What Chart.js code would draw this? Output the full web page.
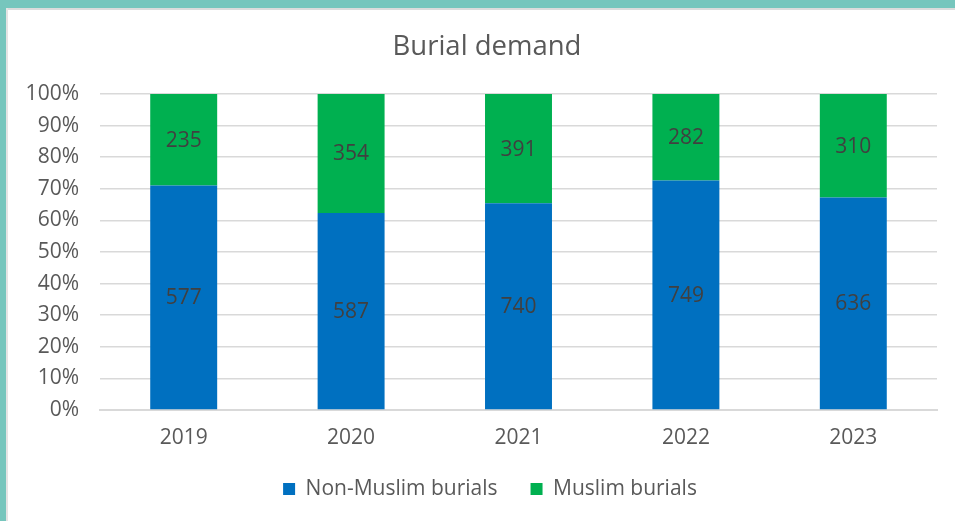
<!DOCTYPE html>
<html>
<head>
<meta charset="utf-8">
<script src="https://cdn.jsdelivr.net/npm/chart.js@4.4.0/dist/chart.umd.min.js"></script>
<style>
html,body{margin:0;padding:0;background:#fff;}
#wrap{position:relative;width:955px;height:521px;overflow:hidden;}
#c{position:absolute;left:0;top:0;}
.bt{position:absolute;left:0;top:0;width:955px;height:8px;background:#76C6BD;}
.bt2{position:absolute;left:6px;top:8px;width:949px;height:2px;background:#DCDCDC;}
.bl{position:absolute;left:0;top:0;width:6px;height:521px;background:#76C6BD;}
.bl2{position:absolute;left:6px;top:8px;width:2px;height:513px;background:#E4E4E4;}
</style>
</head>
<body>
<div id="wrap">
<canvas id="c" width="955" height="521"></canvas>
<div class="bt"></div><div class="bt2"></div><div class="bl"></div><div class="bl2"></div>
</div>
<script>
const categories = ['2019', '2020', '2021', '2022', '2023'];
const nonMuslim = [577, 587, 740, 749, 636];
const muslim = [235, 354, 391, 282, 310];
const seriesNames = ['Non-Muslim burials', 'Muslim burials'];

const totals = categories.map((_, i) => nonMuslim[i] + muslim[i]);
const pct = arr => arr.map((v, i) => v / totals[i] * 100);

const FONT = "'Open Sans', 'Noto Sans', sans-serif";

const labelPlugin = {
  id: 'valueLabels',
  afterDatasetsDraw(chart) {
    const ctx = chart.ctx;
    ctx.save();
    ctx.font = "21px " + FONT;
    ctx.fillStyle = '#404040';
    ctx.textAlign = 'center';
    ctx.textBaseline = 'middle';
    chart.data.datasets.forEach((ds, di) => {
      const meta = chart.getDatasetMeta(di);
      meta.data.forEach((bar, i) => {
        const p = bar.getProps(['x', 'y', 'base'], true);
        ctx.fillText(String(ds.raw[i]), p.x, (p.y + p.base) / 2 + 1);
      });
    });
    ctx.restore();
  }
};

// shift title and legend centring to match the reference
const shiftPlugin = {
  id: 'shiftBlocks',
  afterLayout(chart) {
    if (chart.titleBlock) chart.titleBlock.left += 37;
    if (chart.legend) chart.legend.left += 43;
  }
};

new Chart(document.getElementById('c'), {
  type: 'bar',
  data: {
    labels: categories,
    datasets: [
      { label: seriesNames[0], data: pct(nonMuslim), raw: nonMuslim, backgroundColor: '#0070C0', barPercentage: 0.8, categoryPercentage: 0.5 },
      { label: seriesNames[1], data: pct(muslim), raw: muslim, backgroundColor: '#00B050', barPercentage: 0.8, categoryPercentage: 0.5 }
    ]
  },
  options: {
    responsive: false,
    animation: false,
    layout: { padding: { left: 0, right: 18, top: 0, bottom: 11.5 } },
    plugins: {
      title: { display: true, text: 'Burial demand', color: '#595959', font: { family: FONT, size: 27.5, weight: 'normal' }, padding: { top: 31, bottom: 30 } },
      legend: {
        position: 'bottom',
        labels: { color: '#595959', font: { family: FONT, size: 21 }, boxWidth: 12, boxHeight: 12, padding: 33 }
      },
      tooltip: { enabled: false }
    },
    scales: {
      x: {
        stacked: true,
        grid: { display: false, drawTicks: false },
        border: { color: '#D9D9D9', width: 2 },
        ticks: { color: '#595959', font: { family: FONT, size: 21 }, padding: 15 },
        afterFit(s) { s.height = 35.5; }
      },
      y: {
        stacked: true,
        min: 0, max: 100,
        grid: { color: '#D9D9D9', lineWidth: 1.5, drawTicks: false },
        border: { display: false },
        ticks: { stepSize: 10, color: '#595959', font: { family: FONT, size: 21 }, padding: 21, callback: v => v + '%' },
        afterFit(s) { s.width = 100; }
      }
    }
  },
  plugins: [labelPlugin, shiftPlugin]
});
</script>
</body>
</html>
